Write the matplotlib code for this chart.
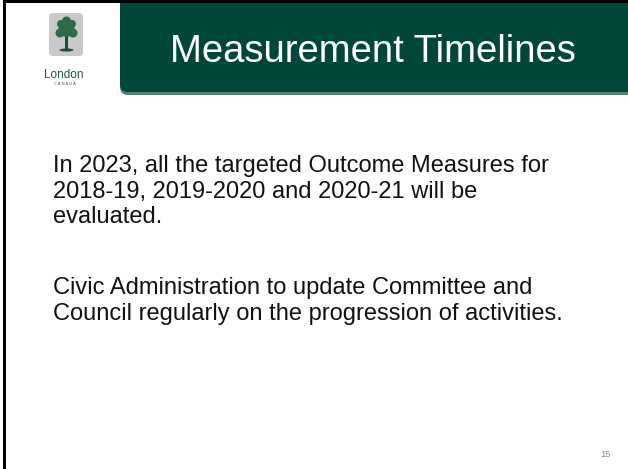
import matplotlib
matplotlib.use("Agg")
from matplotlib import pyplot as plt
import matplotlib.patches as mpatches

# slide content
titulo = "Measurement Timelines"
parrafo1 = ["In 2023, all the targeted Outcome Measures for",
            "2018-19, 2019-2020 and 2020-21 will be",
            "evaluated."]
parrafo2 = ["Civic Administration to update Committee and",
            "Council regularly on the progression of activities."]
num_pagina = "15"

verde = "#00473a"
plt.rcParams['font.family'] = ['Liberation Sans', 'DejaVu Sans']

fig = plt.figure(figsize=(6.28, 4.69), dpi=100)
ax = fig.add_axes([0, 0, 1, 1])
ax.set_xlim(0, 628)
ax.set_ylim(469, 0)
ax.axis('off')

# marco negro (izquierda y arriba)
ax.add_patch(mpatches.Rectangle((2.5, 0), 3.5, 469, color='black', lw=0))
ax.add_patch(mpatches.Rectangle((2.5, 0), 626, 3.5, color='black', lw=0))

# banda del titulo
ax.add_patch(mpatches.FancyBboxPatch((120, -20), 540, 115, boxstyle="round,pad=0,rounding_size=8",
                                     color="#4f7f70", lw=0))
ax.add_patch(mpatches.FancyBboxPatch((120, -20), 540, 112, boxstyle="round,pad=0,rounding_size=8",
                                     color=verde, lw=0))
ax.add_patch(mpatches.Rectangle((120, 0), 508, 3.5, color='black', lw=0))
ax.text(373, 62, titulo, color='white', fontsize=27.5, ha='center', va='baseline')

# logo
ax.add_patch(mpatches.FancyBboxPatch((49, 13), 34, 43, boxstyle="round,pad=0,rounding_size=4",
                                     color="#c9c9c9", lw=0))
ax.add_patch(mpatches.Rectangle((65, 36), 3, 14, color="#1f4a36", lw=0))
ax.add_patch(mpatches.Ellipse((66.5, 50), 14, 3, color="#1f4a36", lw=0))
for cx, cy, r in [(66.5, 29, 8), (60, 33, 4.5), (73, 33, 4.5), (66.5, 21, 4.5), (61, 24, 4), (72, 24, 4)]:
    ax.add_patch(mpatches.Circle((cx, cy), r, color="#2e6b4a", lw=0))
ax.text(64, 77.5, "London", color="#1f5a3a", fontsize=8.5, ha='center', va='baseline')
ax.text(65, 85, "C A N A D A", color="#555555", fontsize=3, ha='center', va='baseline')

# texto
y = 172
for linea in parrafo1:
    ax.text(53, y, linea, color='#111111', fontsize=17, ha='left', va='baseline')
    y += 25.7
y = 294
for linea in parrafo2:
    ax.text(53, y, linea, color='#111111', fontsize=17, ha='left', va='baseline')
    y += 25.7

ax.text(605, 457, num_pagina, color='#8a8a8a', fontsize=6.7, ha='center', va='baseline')

fig.savefig("out.png", dpi=100)
